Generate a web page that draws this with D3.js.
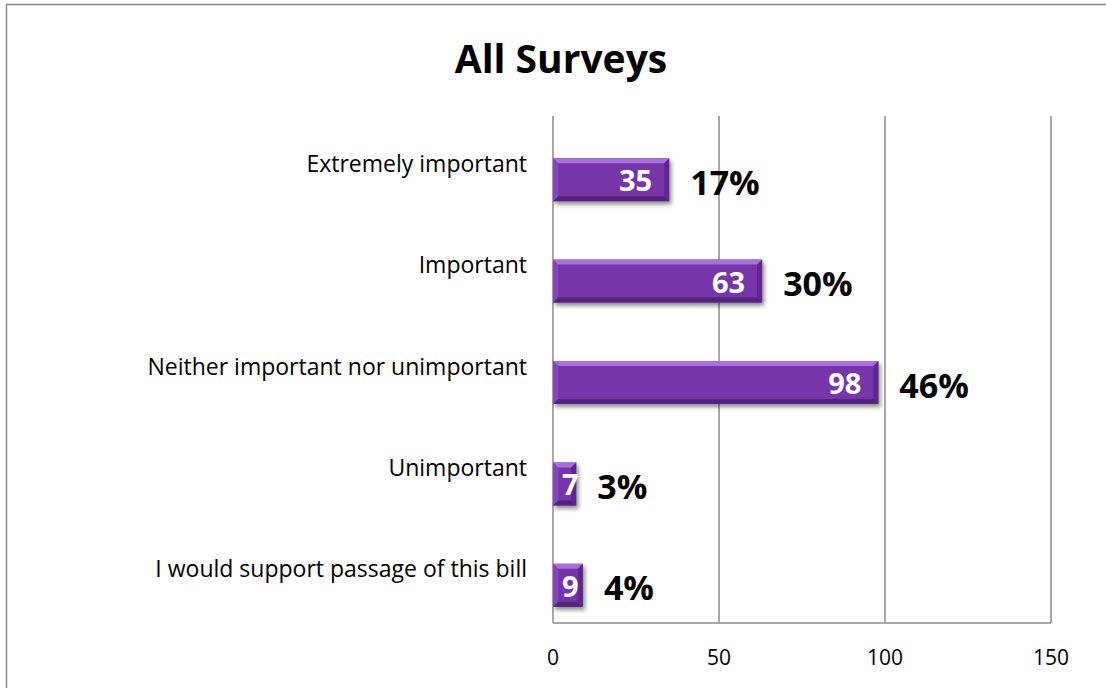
<!DOCTYPE html>
<html><head><meta charset="utf-8">
<script src="https://cdn.jsdelivr.net/npm/d3@7"></script>
<style>html,body{margin:0;padding:0;background:#fff;} svg{display:block;}</style>
</head><body>
<script>
const categories = ["Extremely important","Important","Neither important nor unimportant","Unimportant","I would support passage of this bill"];
const counts = [35, 63, 98, 7, 9];
const percents = ["17%","30%","46%","3%","4%"];
const xTicks = [0, 50, 100, 150];
const title = "All Surveys";

const W = 1106, H = 688;
const svg = d3.select("body").append("svg").attr("width", W).attr("height", H);
const font = "'Open Sans', sans-serif";

// outer chart border
svg.append("rect").attr("x", 6.5).attr("y", 4.5).attr("width", W + 10).attr("height", H + 10)
  .attr("fill", "#fff").attr("stroke", "#8c8c8c").attr("stroke-width", 1.5);

const plot = {left: 553, right: 1051, top: 116, bottom: 623};
const x = d3.scaleLinear().domain([0, 150]).range([plot.left, plot.right]);
const y = d3.scaleBand().domain(categories).range([plot.top, plot.bottom]).paddingInner(0.576).paddingOuter(0.288);
const depth = 13;

const defs = svg.append("defs");
const f = defs.append("filter").attr("id", "sh").attr("x", "-20%").attr("y", "-40%").attr("width", "150%").attr("height", "190%");
f.append("feGaussianBlur").attr("in", "SourceAlpha").attr("stdDeviation", 2.2);
f.append("feOffset").attr("dx", 2).attr("dy", 3).attr("result", "ob");
f.append("feComponentTransfer").append("feFuncA").attr("type", "linear").attr("slope", 0.45);
const m = f.append("feMerge"); m.append("feMergeNode"); m.append("feMergeNode").attr("in", "SourceGraphic");

// gridlines
svg.append("g").selectAll("line").data(xTicks).join("line")
  .attr("x1", d => x(d)).attr("x2", d => x(d)).attr("y1", plot.top).attr("y2", plot.bottom)
  .attr("stroke", "#8c8c8c").attr("stroke-width", 1.5);
svg.append("line").attr("x1", plot.left).attr("x2", plot.right).attr("y1", plot.bottom).attr("y2", plot.bottom)
  .attr("stroke", "#8c8c8c").attr("stroke-width", 1.5);

// x tick labels
svg.append("g").selectAll("text").data(xTicks).join("text")
  .attr("x", d => x(d)).attr("y", 665).attr("text-anchor", "middle")
  .attr("font-family", font).attr("font-size", 21).attr("fill", "#000").text(d => d);

// category labels
svg.append("g").selectAll("text").data(categories).join("text")
  .attr("x", plot.left - 26).attr("y", d => y(d) + y.bandwidth() / 2 - 4)
  .attr("text-anchor", "end").attr("dominant-baseline", "central")
  .attr("font-family", font).attr("font-size", 23).attr("fill", "#000").text(d => d);

// bars
const bv = 5;
const bars = svg.append("g").selectAll("g").data(categories).join("g")
  .attr("filter", "url(#sh)");
bars.each(function(c, i) {
  const g = d3.select(this);
  const x0 = x(0), x1 = x(counts[i]);
  const y0 = y(c) + depth, h = y.bandwidth(), y1 = y0 + h;
  g.append("rect").attr("x", x0).attr("y", y0).attr("width", x1 - x0).attr("height", h).attr("fill", "#7636a8");
  g.append("polygon").attr("points", [[x0,y0],[x1,y0],[x1-bv,y0+bv],[x0+bv,y0+bv]].join(" ")).attr("fill", "#a870d8");
  g.append("polygon").attr("points", [[x0,y1],[x1,y1],[x1-bv,y1-bv],[x0+bv,y1-bv]].join(" ")).attr("fill", "#55207e");
  g.append("polygon").attr("points", [[x0,y0],[x0+bv,y0+bv],[x0+bv,y1-bv],[x0,y1]].join(" ")).attr("fill", "#8447b8");
  g.append("polygon").attr("points", [[x1,y0],[x1-bv,y0+bv],[x1-bv,y1-bv],[x1,y1]].join(" ")).attr("fill", "#5f2790");
});

// value labels inside bars
svg.append("g").selectAll("text").data(categories).join("text")
  .attr("font-family", font).attr("font-weight", "bold").attr("font-size", 29).attr("fill", "#fff")
  .attr("dominant-baseline", "central").attr("text-anchor", "end")
  .attr("y", d => y(d) + depth + y.bandwidth() / 2)
  .text((d, i) => counts[i])
  .attr("x", function(d, i) {
    const w = this.getComputedTextLength();
    return Math.max(x(counts[i]) - 17, x(0) + 9 + w);
  });

// percent labels
svg.append("g").selectAll("text").data(categories).join("text")
  .attr("font-family", font).attr("font-weight", "bold").attr("font-size", 34).attr("fill", "#000")
  .attr("dominant-baseline", "central")
  .attr("x", (d, i) => x(counts[i]) + 21)
  .attr("y", d => y(d) + depth + y.bandwidth() / 2 + 2)
  .text((d, i) => percents[i]);

// title
svg.append("text").attr("x", 561).attr("y", 57).attr("text-anchor", "middle").attr("dominant-baseline", "central")
  .attr("font-family", font).attr("font-weight", "bold").attr("font-size", 39).attr("fill", "#000").text(title);
</script>
</body></html>
